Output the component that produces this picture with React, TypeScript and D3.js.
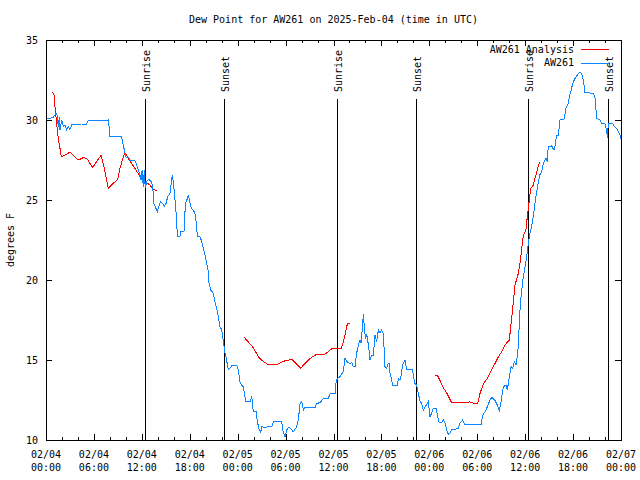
import React from "react";
import * as d3 from "d3";

const START = Date.UTC(2025, 1, 4, 0, 0);
const SPAN_HOURS = 72;

// AW261 observations: hours since 02/04 00:00 UTC, dew point (F)
const obsHours = [
  0.16, 0.92, 1.25, 1.42, 1.54, 1.67, 1.75, 1.96, 2.17, 2.38, 2.59, 2.8, 3.0, 3.22, 3.84, 4.47, 5.1, 5.3, 5.93, 6.55,
  7.18, 7.8, 7.93, 8.01, 8.64, 9.27, 9.48, 9.68, 9.89, 10.02, 10.31, 10.52, 11.14, 11.36, 11.56, 11.77, 11.9, 12.05,
  12.18, 12.31, 12.43, 12.6, 12.81, 13.1, 13.27, 13.44, 13.5, 13.65, 13.94, 14.19, 14.36, 14.61, 14.82, 15.03, 15.24,
  15.53, 15.65, 15.82, 15.94, 16.07, 16.28, 16.36, 16.49, 16.78, 16.9, 17.28, 17.32, 17.49, 17.7, 17.82, 17.95, 18.12,
  18.37, 18.57, 18.74, 18.87, 18.99, 19.28, 19.5, 19.7, 19.91, 20.12, 20.33, 20.41, 20.62, 20.95, 21.16, 21.37, 21.58,
  21.79, 22.0, 22.12, 22.29, 22.41, 22.54, 22.83, 23.04, 23.25, 23.88, 24.08, 24.29, 24.5, 24.71, 25.0, 25.55, 25.76,
  25.96, 26.3, 26.46, 26.71, 26.88, 27.0, 27.42, 27.84, 28.26, 28.47, 29.51, 29.64, 29.93, 30.14, 30.43, 30.76, 30.97,
  31.39, 31.6, 31.81, 32.02, 32.22, 32.43, 33.69, 33.9, 34.31, 34.73, 35.35, 35.56, 36.19, 36.31, 36.48, 36.82, 37.23,
  37.44, 37.65, 38.07, 38.28, 38.48, 38.69, 38.9, 39.11, 39.32, 39.45, 39.62, 39.74, 39.86, 39.99, 40.16, 40.28, 40.45,
  40.57, 40.78, 40.99, 41.2, 41.41, 41.62, 41.82, 42.03, 42.24, 42.45, 42.66, 42.87, 43.0, 43.08, 43.28, 43.41, 43.99,
  44.12, 44.33, 44.45, 44.66, 44.95, 45.16, 45.91, 45.99, 46.2, 46.41, 46.62, 46.83, 47.04, 47.25, 47.46, 47.67, 47.87,
  48.08, 48.29, 48.5, 48.84, 49.0, 49.25, 49.55, 49.75, 49.96, 50.18, 50.38, 50.59, 50.8, 51.21, 51.63, 51.84, 52.17,
  52.47, 54.48, 54.69, 54.98, 55.27, 55.52, 55.8, 56.0, 56.23, 56.5, 56.77, 56.98, 57.27, 57.6, 57.77, 58.02, 58.23,
  58.44, 58.65, 58.86, 59.07, 59.19, 59.27, 59.44, 59.57, 59.77, 59.98, 60.19, 60.4, 60.6, 60.81, 61.02, 61.23, 61.44,
  61.65, 61.86, 62.06, 62.27, 62.6, 62.77, 62.89, 63.31, 63.6, 63.73, 63.94, 64.15, 64.36, 64.86, 65.11, 65.4, 65.53,
  65.82, 65.95, 66.24, 66.53, 66.78, 67.07, 67.28, 67.49, 68.54, 68.75, 68.96, 69.37, 69.58, 70.0, 70.2, 70.29, 70.41,
  70.96, 71.25, 71.53, 71.87, 72.0,
];
const obsDewF = [
  30.06, 30.17, 30.42, 30.25, 29.58, 30.2, 29.38, 30.0, 29.58, 29.69, 29.38, 29.58, 29.42, 29.69, 29.73, 29.75, 29.75,
  30.0, 29.96, 30.0, 29.96, 30.0, 29.48, 28.96, 28.96, 29.0, 28.92, 28.44, 27.92, 27.67, 27.67, 27.5, 27.46, 27.19,
  26.88, 26.56, 26.25, 26.9, 25.83, 26.88, 25.73, 26.15, 26.29, 26.21, 26.04, 25.42, 24.79, 24.63, 24.27, 24.69, 24.9,
  24.79, 24.63, 24.79, 25.21, 25.42, 25.94, 26.56, 26.15, 25.52, 24.27, 23.44, 22.75, 22.75, 23.06, 23.06, 23.75, 24.79,
  25.1, 25.31, 25.0, 24.58, 24.38, 24.27, 23.96, 23.13, 22.71, 22.71, 22.4, 21.98, 21.56, 21.04, 20.52, 19.79, 19.38,
  19.17, 18.65, 18.23, 17.71, 17.08, 16.88, 16.46, 15.9, 15.42, 15.21, 14.38, 14.48, 14.65, 14.65, 14.38, 13.65, 13.44,
  13.33, 12.4, 12.4, 12.71, 11.77, 11.77, 11.15, 10.63, 10.46, 10.83, 10.79, 10.83, 10.83, 11.15, 11.15, 10.63, 10.21,
  10.63, 10.83, 10.63, 10.52, 10.83, 11.25, 12.29, 12.4, 11.88, 12.04, 12.04, 12.29, 12.33, 12.6, 12.6, 12.88, 12.88,
  13.54, 13.85, 13.96, 14.27, 15.1, 14.9, 14.79, 14.85, 14.58, 14.58, 15.42, 15.94, 16.25, 16.04, 17.08, 17.85, 17.08,
  16.35, 16.56, 16.25, 15.63, 15.0, 15.31, 15.31, 16.56, 16.15, 16.88, 16.67, 16.88, 16.67, 14.58, 14.48, 14.79, 14.79,
  14.17, 13.75, 13.38, 13.38, 13.85, 13.75, 13.96, 14.69, 15.0, 14.38, 14.38, 14.06, 13.54, 13.44, 12.92, 12.44, 12.29,
  11.88, 12.08, 12.19, 12.4, 11.46, 11.67, 11.98, 11.98, 11.56, 11.08, 11.08, 11.25, 11.08, 10.63, 10.35, 10.42, 10.63,
  10.67, 10.73, 11.04, 11.25, 10.94, 10.94, 11.56, 11.77, 12.08, 12.4, 12.67, 12.6, 12.46, 12.19, 11.83, 12.4, 13.33,
  13.44, 13.13, 13.96, 14.58, 14.48, 14.9, 14.69, 15.42, 16.25, 17.5, 18.75, 19.38, 20.21, 20.83, 21.46, 22.29, 22.92,
  23.33, 23.96, 24.79, 25.5, 26.15, 26.6, 26.77, 27.29, 27.6, 27.4, 28.33, 28.38, 28.13, 28.33, 29.06, 29.06, 30.0,
  30.04, 30.73, 31.04, 31.46, 31.98, 32.29, 32.6, 32.81, 32.98, 32.92, 32.5, 31.71, 31.67, 31.35, 30.1, 30.0, 29.79,
  29.75, 29.38, 28.86, 29.79, 29.79, 29.54, 29.42, 29.06, 28.85,
];

// AW261 Analysis: hours since start, dew point (F); null marks a gap between runs
const analysisHours = [
  0.84, 1.0, 1.17, 1.33, 1.54, 1.75, 1.92, 2.38, 3.0, 3.63, 4.05, 4.68, 5.1, 5.84, 6.34, 6.89, 7.26, 7.8, 8.43, 8.97,
  9.27, 9.68, 9.89, 10.43, 11.14, 11.77, 12.4, 13.0, 13.43, 13.94, 19.0,
  24.83, 25.54, 25.96, 26.59, 27.0, 27.84, 28.47, 29.1, 29.72, 30.76, 31.39, 31.9, 32.43, 33.06, 33.9, 34.94, 35.35,
  35.9, 37.0, 37.3, 37.65, 37.77, 38.07, 43.0,
  48.71, 49.05, 49.34, 49.67, 50.09, 50.8, 52.26, 53.1, 53.72, 54.06, 54.35, 54.76, 55.27, 55.8, 56.23, 56.65, 57.07,
  57.48, 58.02, 58.19, 58.44, 58.73, 59.15, 59.35, 59.57, 59.77, 60.1, 60.27, 60.52, 60.69, 60.94, 61.23, 61.52, 61.77,
  61.86,
];
const analysisDewF: (number | null)[] = [
  31.73, 31.56, 30.6, 29.8, 28.86, 28.23, 27.7, 27.8, 28.0, 27.7, 27.5, 27.65, 27.6, 27.04, 27.4, 27.8, 27.08, 25.73,
  26.04, 26.29, 26.98, 27.7, 27.96, 27.5, 26.98, 26.46, 26.14, 25.94, 25.67, 25.54, null,
  16.42, 16.0, 15.77, 15.21, 15.0, 14.69, 14.73, 14.75, 14.92, 15.04, 14.75, 14.48, 14.79, 15.1, 15.36, 15.36, 15.52,
  15.75, 15.75, 16.25, 17.08, 17.29, 17.29, null,
  14.06, 14.0, 13.71, 13.33, 13.02, 12.33, 12.33, 12.38, 12.25, 12.29, 12.92, 13.5, 13.85, 14.38, 14.79, 15.21, 15.52,
  15.94, 16.25, 17.08, 18.23, 19.69, 20.42, 21.04, 21.98, 22.81, 23.13, 23.96, 25.0, 25.73, 25.83, 26.35, 26.88, 27.33,
  27.35,
];

const sunEventLabels = ["Sunrise", "Sunset", "Sunrise", "Sunset", "Sunrise", "Sunset"];
const sunEventHours = [12.4, 22.3, 36.45, 46.35, 60.38, 70.37];

const yTicks = [10, 15, 20, 25, 30, 35];
const legendLabels = ["AW261 Analysis", "AW261"];
const seriesColors = ["#ff0000", "#0a84ff"];

const FONT = "'DejaVu Sans Mono', 'Liberation Mono', monospace";

export default function App() {
  const W = 640, H = 480;
  const left = 46, right = 621, top = 40, bottom = 440;
  const toDate = (h: number) => new Date(START + h * 3600 * 1000);

  const x = d3.scaleUtc().domain([toDate(0), toDate(SPAN_HOURS)]).range([left, right]);
  const y = d3.scaleLinear().domain([10, 35]).range([bottom, top]);

  const obs = obsHours.map((h, i) => ({ t: toDate(h), v: obsDewF[i] as number | null }));
  const ana = analysisHours.map((h, i) => ({ t: toDate(h), v: analysisDewF[i] }));

  const line = d3
    .line<{ t: Date; v: number | null }>()
    .defined((d) => d.v !== null)
    .x((d) => x(d.t))
    .y((d) => y(d.v as number));

  const majorTicks = x.ticks(d3.utcHour.every(6)!);
  const minorTicks = x.ticks(d3.utcHour.every(2)!);
  const fmtDate = d3.utcFormat("%m/%d");
  const fmtTime = d3.utcFormat("%H:%M");

  const fs = 10;

  return (
    <svg
      width={W}
      height={H}
      style={{ position: "absolute", left: 0, top: 0, background: "#fff" }}
      fontFamily={FONT}
      fontSize={fs}
    >
      <rect x={0} y={0} width={W} height={H} fill="#fff" />
      <text x={(left + right) / 2} y={23} textAnchor="middle" fill="#000">
        Dew Point for AW261 on 2025-Feb-04 (time in UTC)
      </text>

      {/* x ticks */}
      <g stroke="#000" shapeRendering="crispEdges">
        {minorTicks.map((t, i) => {
          const isMajor = t.getUTCHours() % 6 === 0;
          const len = isMajor ? 6 : 3;
          const xx = Math.round(x(t)) + 0.5;
          return (
            <g key={i}>
              <line x1={xx} x2={xx} y1={bottom} y2={bottom - len} />
              <line x1={xx} x2={xx} y1={top} y2={top + len} />
            </g>
          );
        })}
        {yTicks.map((v, i) => {
          const yy = Math.round(y(v)) + 0.5;
          return (
            <g key={i}>
              <line x1={left} x2={left + 6} y1={yy} y2={yy} />
              <line x1={right} x2={right - 6} y1={yy} y2={yy} />
            </g>
          );
        })}
      </g>

      {majorTicks.map((t, i) => (
        <g key={i} fill="#000">
          <text x={x(t)} y={458} textAnchor="middle">
            {fmtDate(t)}
          </text>
          <text x={x(t)} y={471} textAnchor="middle">
            {fmtTime(t)}
          </text>
        </g>
      ))}
      {yTicks.map((v, i) => (
        <text key={i} x={38} y={y(v) + 4} textAnchor="end" fill="#000">
          {v}
        </text>
      ))}

      <text transform={`translate(14,${(top + bottom) / 2}) rotate(-90)`} textAnchor="middle" fill="#000">
        degrees F
      </text>

      {/* sun events */}
      {sunEventHours.map((h, i) => {
        const xx = Math.round(x(toDate(h))) + 0.5;
        return (
          <g key={i}>
            <line x1={xx} x2={xx} y1={99} y2={bottom} stroke="#000" shapeRendering="crispEdges" />
            <text transform={`translate(${xx + 4},92) rotate(-90)`} textAnchor="start" fill="#000">
              {sunEventLabels[i]}
            </text>
          </g>
        );
      })}

      {/* series */}
      <path d={line(ana) || ""} fill="none" stroke={seriesColors[0]} strokeWidth={1} shapeRendering="crispEdges" />
      <path d={line(obs) || ""} fill="none" stroke={seriesColors[1]} strokeWidth={1} shapeRendering="crispEdges" />

      {/* legend */}
      {legendLabels.map((lab, i) => {
        const ly = 49 + i * 13.5;
        return (
          <g key={i}>
            <text x={574} y={ly + 3.5} textAnchor="end" fill="#000">
              {lab}
            </text>
            <line
              x1={581}
              x2={609}
              y1={Math.round(ly) + 0.5}
              y2={Math.round(ly) + 0.5}
              stroke={seriesColors[i]}
              shapeRendering="crispEdges"
            />
          </g>
        );
      })}

      {/* border */}
      <rect
        x={left + 0.5}
        y={top + 0.5}
        width={right - left}
        height={bottom - top}
        fill="none"
        stroke="#000"
        shapeRendering="crispEdges"
      />
    </svg>
  );
}
